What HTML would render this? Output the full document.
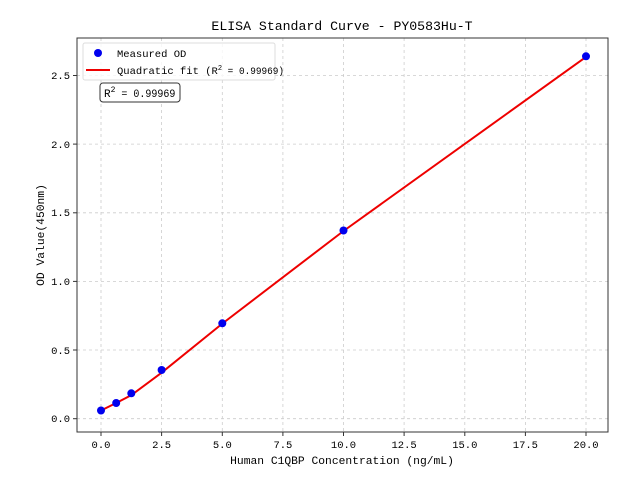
<!DOCTYPE html>
<html><head><meta charset="utf-8"><style>body{margin:0;background:#fff}svg{display:block}text{font-family:"Liberation Mono","WenQuanYi Zen Hei",monospace;fill:#000}</style></head><body>
<svg width="640" height="480" viewBox="0 0 640 480">
<g stroke="#ccc" stroke-dasharray="3,3" stroke-width="0.8">
<line x1="101" y1="38" x2="101" y2="432"/><line x1="161.6" y1="38" x2="161.6" y2="432"/><line x1="222.3" y1="38" x2="222.3" y2="432"/><line x1="282.9" y1="38" x2="282.9" y2="432"/><line x1="343.5" y1="38" x2="343.5" y2="432"/><line x1="404.1" y1="38" x2="404.1" y2="432"/><line x1="464.8" y1="38" x2="464.8" y2="432"/><line x1="525.4" y1="38" x2="525.4" y2="432"/><line x1="586" y1="38" x2="586" y2="432"/>
<line x1="77" y1="418.7" x2="608" y2="418.7"/><line x1="77" y1="350" x2="608" y2="350"/><line x1="77" y1="281.4" x2="608" y2="281.4"/><line x1="77" y1="212.8" x2="608" y2="212.8"/><line x1="77" y1="144.1" x2="608" y2="144.1"/><line x1="77" y1="75.5" x2="608" y2="75.5"/>
</g>
<rect x="77" y="38" width="531" height="394" fill="none" stroke="#333" stroke-width="1"/>
<g stroke="#333"><line x1="101" y1="432" x2="101" y2="436"/><line x1="161.6" y1="432" x2="161.6" y2="436"/><line x1="222.3" y1="432" x2="222.3" y2="436"/><line x1="282.9" y1="432" x2="282.9" y2="436"/><line x1="343.5" y1="432" x2="343.5" y2="436"/><line x1="404.1" y1="432" x2="404.1" y2="436"/><line x1="464.8" y1="432" x2="464.8" y2="436"/><line x1="525.4" y1="432" x2="525.4" y2="436"/><line x1="586" y1="432" x2="586" y2="436"/>
<line x1="73" y1="418.7" x2="77" y2="418.7"/><line x1="73" y1="350" x2="77" y2="350"/><line x1="73" y1="281.4" x2="77" y2="281.4"/><line x1="73" y1="212.8" x2="77" y2="212.8"/><line x1="73" y1="144.1" x2="77" y2="144.1"/><line x1="73" y1="75.5" x2="77" y2="75.5"/></g>
<g font-size="10.5" text-anchor="middle"><text x="101" y="448">0.0</text><text x="161.6" y="448">2.5</text><text x="222.3" y="448">5.0</text><text x="282.9" y="448">7.5</text><text x="343.5" y="448">10.0</text><text x="404.1" y="448">12.5</text><text x="464.8" y="448">15.0</text><text x="525.4" y="448">17.5</text><text x="586" y="448">20.0</text></g>
<g font-size="10.5" text-anchor="end"><text x="70" y="422">0.0</text><text x="70" y="354">0.5</text><text x="70" y="285">1.0</text><text x="70" y="216">1.5</text><text x="70" y="148">2.0</text><text x="70" y="79">2.5</text></g>
<text x="342" y="464" font-size="11.3" text-anchor="middle">Human C1QBP Concentration (ng/mL)</text>
<text transform="translate(44,235) rotate(-90)" font-size="11.3" text-anchor="middle">OD Value(450nm)</text>
<text x="342" y="30" font-size="13.2" text-anchor="middle">ELISA Standard Curve - PY0583Hu-T</text>
<polyline fill="none" stroke="#e00" stroke-width="2" points="101,410.5 116.2,403 131.3,395.2 161.6,372.7 222.3,323.6 343.5,231 586,56.9"/>
<g fill="#0000ee"><circle cx="101" cy="410.5" r="4"/><circle cx="116.2" cy="403" r="4"/><circle cx="131.3" cy="393.3" r="4"/><circle cx="161.6" cy="370" r="4"/><circle cx="222.3" cy="323.3" r="4"/><circle cx="343.5" cy="230.5" r="4"/><circle cx="586" cy="56.3" r="4"/></g>
<rect x="83" y="43" width="192" height="37" rx="2" fill="#fff" fill-opacity="0.8" stroke="#ddd"/>
<circle cx="98" cy="53" r="4" fill="#0000ee"/>
<line x1="86" y1="70" x2="110" y2="70" stroke="#e00" stroke-width="2"/>
<text x="117" y="57" font-size="10.5">Measured OD</text>
<text x="117" y="74" font-size="10.5">Quadratic fit (R<tspan font-size="7" dy="-4">2</tspan><tspan dy="4" textLength="62" lengthAdjust="spacingAndGlyphs"> = 0.99969)</tspan></text>
<rect x="100" y="83" width="80" height="19" rx="3" fill="#fff" stroke="#333"/>
<text x="104" y="97" font-size="11">R<tspan font-size="8" dy="-5">2</tspan><tspan dy="5" textLength="60" lengthAdjust="spacingAndGlyphs"> = 0.99969</tspan></text>
</svg>
</body></html>
